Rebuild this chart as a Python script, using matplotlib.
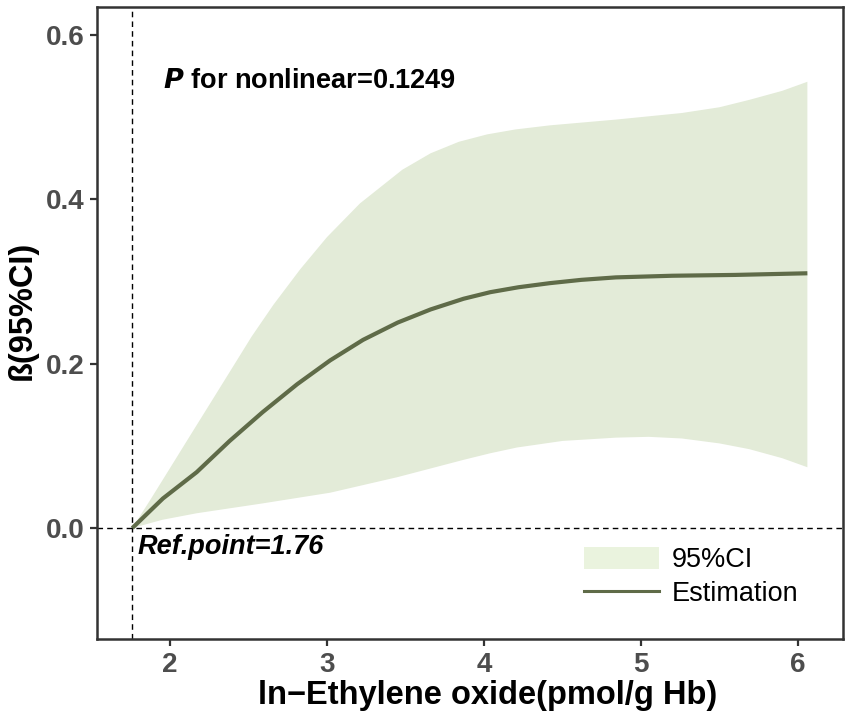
import matplotlib
matplotlib.use("Agg")
import matplotlib.pyplot as plt
from matplotlib.patches import Patch
from matplotlib.lines import Line2D

# values
est_x = [1.76, 1.955, 2.17, 2.38, 2.59, 2.81, 3.02, 3.23, 3.45, 3.66, 3.87,
         4.04, 4.22, 4.42, 4.62, 4.84, 5.2, 5.6, 6.06]
est_y = [0.0, 0.036, 0.068, 0.106, 0.141, 0.175, 0.204, 0.229, 0.250, 0.266,
         0.279, 0.287, 0.293, 0.298, 0.302, 0.305, 0.307, 0.308, 0.310]

upper_x = [1.76, 1.88, 2.01, 2.13, 2.27, 2.40, 2.52, 2.66, 2.83, 3.00, 3.21,
           3.48, 3.66, 3.84, 4.02, 4.20, 4.42, 4.84, 5.26, 5.50, 5.69, 5.90,
           6.06]
upper_y = [0.0, 0.036, 0.076, 0.113, 0.156, 0.196, 0.233, 0.272, 0.315,
           0.354, 0.395, 0.436, 0.456, 0.470, 0.479, 0.485, 0.490, 0.497,
           0.505, 0.512, 0.521, 0.532, 0.543]

lower_x = [1.76, 1.95, 2.17, 2.59, 3.02, 3.45, 3.87, 4.04, 4.21, 4.50, 4.84,
           5.05, 5.26, 5.50, 5.69, 5.90, 6.06]
lower_y = [0.0, 0.010, 0.018, 0.030, 0.043, 0.062, 0.083, 0.091, 0.098,
           0.106, 0.110, 0.111, 0.109, 0.103, 0.096, 0.085, 0.074]

ref_point = 1.76
x_ticks = [2, 3, 4, 5, 6]
y_ticks = [0.0, 0.2, 0.4, 0.6]

fill_color = "#e3ebd8"
line_color = "#5f6b48"


def main():
    plt.rcParams["font.family"] = ["Liberation Sans", "DejaVu Sans"]

    fig = plt.figure(figsize=(8.51, 7.27), dpi=100)
    ax = fig.add_axes([97 / 851, 1 - 639 / 727, (843 - 97) / 851, (639 - 7) / 727])

    # CI band: polygon from upper bound and reversed lower bound
    poly_x = upper_x + lower_x[::-1]
    poly_y = upper_y + lower_y[::-1]
    ax.fill(poly_x, poly_y, color=fill_color, linewidth=0, zorder=1)
    ax.plot(est_x, est_y, color=line_color, linewidth=3.0,
            solid_capstyle="butt", solid_joinstyle="round", zorder=3)

    ax.axhline(0, color="black", linestyle=(0, (4, 3)), linewidth=1.0, zorder=2)
    ax.axvline(ref_point, color="black", linestyle=(0, (4, 3)), linewidth=1.0,
               zorder=2)

    ax.set_xlim(1.535, 6.287)
    ax.set_ylim(-0.135, 0.634)
    ax.set_xticks(x_ticks)
    ax.set_yticks(y_ticks)
    ax.set_xticklabels([str(t) for t in x_ticks])
    ax.set_yticklabels([f"{t:.1f}" for t in y_ticks])

    for lab in ax.get_xticklabels() + ax.get_yticklabels():
        lab.set_fontsize(20)
        lab.set_fontweight("bold")
        lab.set_color("#4d4d4d")
    ax.tick_params(length=5, width=1.6, color="#333333", pad=4)

    for s in ax.spines.values():
        s.set_linewidth(1.8)
        s.set_color("#333333")

    ax.set_xlabel("ln\u2212Ethylene oxide(pmol/g Hb)", fontsize=23.5,
                  fontweight="bold")
    ax.xaxis.set_label_coords(0.523, -0.065)
    ax.set_ylabel("ß(95%CI)", fontsize=23.5, fontweight="bold")
    ax.yaxis.set_label_coords(-0.079, 0.52)

    ax.text(1.955, 0.536, r"$\bfit{P}$ for nonlinear=0.1249", fontsize=19.5,
            fontweight="bold", va="baseline", ha="left")
    ax.text(1.796, -0.032, "Ref.point=1.76", fontsize=19.5, fontweight="bold",
            fontstyle="italic", va="baseline", ha="left")

    handles = [Patch(facecolor="#eaf3de", edgecolor="none"),
               Line2D([0], [0], color=line_color, linewidth=2.2)]
    ax.legend(handles, ["95%CI", "Estimation"], loc="lower right",
              bbox_to_anchor=(0.94, 0.051), frameon=False, fontsize=19.5,
              borderpad=0, borderaxespad=0,
              handlelength=2.78, handleheight=0.89, handletextpad=0.45,
              labelspacing=0.25)

    fig.savefig("out.png", dpi=100)


if __name__ == "__main__":
    main()
